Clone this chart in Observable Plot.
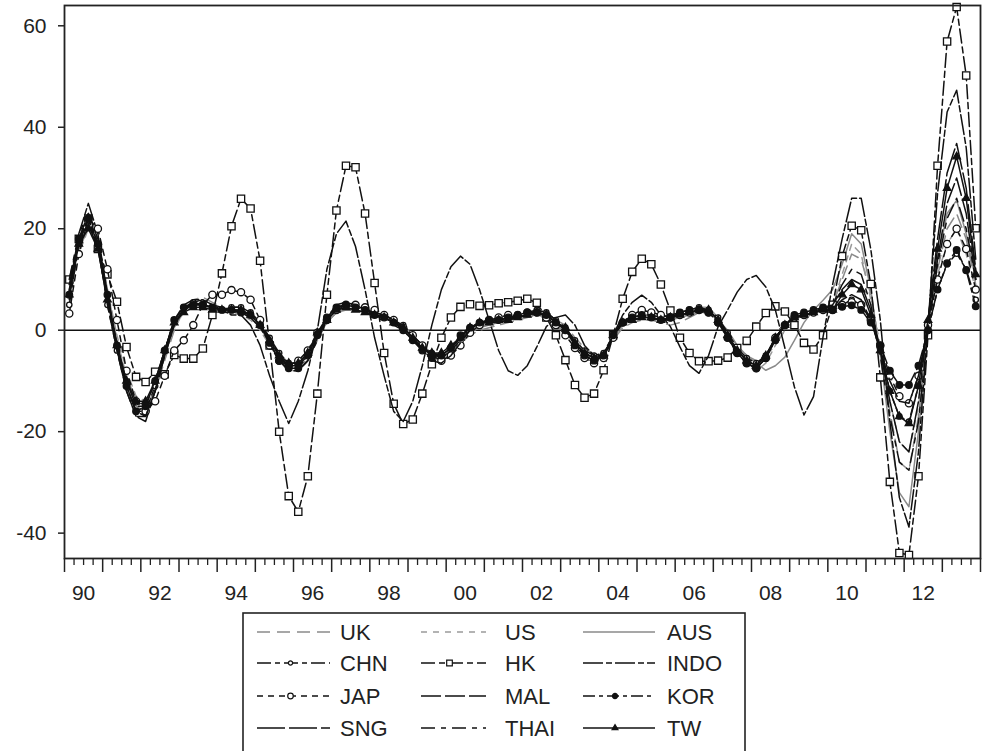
<!DOCTYPE html>
<html>
<head>
<meta charset="utf-8">
<script src="https://cdn.jsdelivr.net/npm/d3@7"></script>
<script src="https://cdn.jsdelivr.net/npm/@observablehq/plot@0.6"></script>
<style>
  body { margin: 0; background: #fff; }
  svg { display: block; }
</style>
</head>
<body>
<div id="chart"></div>
<script>
// ---- Data: quarterly, 1990Q1 .. 2013Q4 (96 observations, 8 per row = 2 years) ----
const startYear = 1990;
const perYear = 4;
const countries = ["UK","US","AUS","CHN","HK","INDO","JAP","MAL","KOR","SNG","THAI","TW"];
const yTicks = [-40, -20, 0, 20, 40, 60];
const xLabels = ["90","92","94","96","98","00","02","04","06","08","10","12"];

const UK = [
  9, 16, 20, 17, 7, -2, -9, -14,
  -15, -12, -6, 0, 4, 6, 6.5, 5.5,
  4.5, 4, 3.5, 2.5, 0.5, -2.5, -5.5, -7.5,
  -7.5, -5.5, -1.5, 1.5, 3.5, 4, 4, 3.5,
  3, 3, 2, 1, -1, -3, -4.5, -5,
  -4, -2.5, -1, 0, 0.5, 1, 1.5, 2,
  2.5, 3, 3, 2, 1, -1.5, -3.5, -5,
  -5, -2, 0.5, 1.5, 2, 2, 1.5, 1,
  1.5, 2.5, 3.5, 3.5, 2, -0.5, -3, -5,
  -6, -5, -3, 0, 2, 3, 3.5, 4,
  5, 10, 15, 14, 7, -4, -16, -26,
  -27.6, -17, 0, 12, 20, 23, 18, 9
];
const US = [
  7, 15, 20, 18, 8, -1, -8, -13,
  -14, -11, -5, 0.5, 3.5, 4.5, 5, 4.5,
  4, 3.5, 3, 2, 0, -3, -6, -8,
  -8, -6, -2, 1.5, 3.5, 4.5, 4.5, 4,
  3.5, 2.5, 1.5, 0, -2, -4, -5.5, -6,
  -4.5, -2, 0, 1, 1.5, 2, 2.5, 3,
  3.5, 4, 3.5, 2, 0, -2.5, -4.5, -5.5,
  -4.5, -1, 1.5, 2.5, 3, 3, 2.5, 3,
  3.5, 4, 4.5, 4.5, 2.5, -1, -4.5, -7,
  -8, -6.5, -3, 0, 2, 3, 3.5, 4,
  5, 11, 17, 15, 6, -3, -14, -22,
  -24, -15, 1, 11, 17, 20, 15, 8
];
const AUS = [
  8, 16, 21, 18, 8, -2, -10, -15,
  -16, -12, -5, 1, 4, 5, 5, 4,
  3.5, 3.5, 3.5, 2.5, 0.5, -2, -4.5, -6.5,
  -6.5, -5, -1.5, 1.5, 3.5, 4, 4, 3.5,
  3, 2.5, 1.5, 0.5, -1.5, -3, -4.5, -5,
  -3.5, -2, -0.5, 0.5, 1, 1.5, 2, 2.5,
  3, 3, 2.5, 1, -0.5, -2.5, -4.5, -5.5,
  -4.5, -1.5, 1, 2, 2.5, 2.5, 2, 2,
  2.5, 3, 3.5, 3.5, 2, 0, -3, -5,
  -6.5, -7.9, -7, -5.3, -2, 1.5, 4, 5.9,
  8, 13, 19, 17, 8, -5, -20, -32,
  -34.8, -20, 0, 14, 23, 25.6, 19, 10
];
const CHN = [
  5, 17, 22, 17, 5, -4, -11, -16,
  -16, -11, -4, 2, 4.5, 5.5, 5, 4.5,
  4, 4.5, 4.5, 3.5, 1.5, -1.5, -4.5, -6.5,
  -6.5, -4.5, -0.5, 2.5, 4.5, 5, 4.5, 4,
  3.5, 3, 2, 1, -1, -3, -4.5, -5,
  -3.5, -1.5, 0.5, 1.5, 2, 2, 2.5, 3,
  3.5, 4, 3.5, 2, 0.5, -2, -4, -5,
  -4.5, -1, 1.5, 2.5, 3, 3, 2.5, 3,
  3.5, 4, 4.5, 4, 2.5, -0.5, -3.5, -5.5,
  -6.5, -5, -1.5, 1, 2.5, 3, 3.5, 4,
  4, 5, 6, 5, 2, -4, -12, -17,
  -18, -11, 0, 8, 13, 15.1, 12, 6
];
const HK = [
  10, 18, 22, 16, 11, 5.6, -3.3, -9.2,
  -10.2, -8.2, -8.7, -4.9, -5.6, -5.6, -3.6, 3,
  11.2, 20.5, 25.9, 24, 13.7, -3, -20, -32.7,
  -35.8, -28.8, -12.5, 7, 23.6, 32.4, 32.1, 23,
  9.3, -4.5, -14.5, -18.5, -17.6, -12.5, -6.7, -1.5,
  2.5, 4.6, 5.1, 4.8, 4.9, 5.3, 5.5, 5.8,
  6.2, 5.4, 2.5, -1, -5.9, -10.8, -13.3, -12.5,
  -7.9, -1, 6.2, 11.5, 14.1, 13, 9, 3.9,
  -1.5, -4.5, -6.1, -6.1, -6, -5.4, -3.5, -2.1,
  0.7, 3.4, 4.7, 3.7, 1, -2.5, -3.8, -1,
  5, 14.6, 20.6, 19.7, 9.1, -9.3, -29.9, -43.9,
  -44.3, -28.8, -1, 32.4, 56.9, 63.7, 50.2, 20.1
];
const INDO = [
  6, 19, 25, 19, 7, -4, -12, -17,
  -18, -12, -4, 2, 5, 6, 6, 5,
  4, 3, 3, 1, -3, -9, -14, -18.4,
  -14, -8, 0, 12, 19, 21.5, 16.5, 8,
  -1.5, -9, -16, -18, -14, -7, 1, 8,
  12.5, 14.6, 13, 8, 2, -4, -8, -8.9,
  -7, -3.3, 0.7, 2.5, 3, 1, -3, -5,
  -5, -1, 3, 5.5, 6.9, 5.5, 3, 0.7,
  -3.3, -7, -8.5, -5, 0.7, 4, 7.5, 10,
  10.8, 8.5, 4, -3.5, -11.2, -16.7, -13.1, -1.3,
  9, 18, 26, 26, 16, 2, -18, -33,
  -38.8, -24, 1, 27, 43, 47.3, 36, 14
];
const JAP = [
  3.3, 15, 22, 20, 12, 2, -8, -14,
  -16, -14, -9, -4, -2, 1, 5, 7,
  7, 7.9, 7.5, 6, 2, -3, -6, -7,
  -6, -4, -0.5, 2, 4, 5, 5, 4.5,
  4, 3, 2, 0.5, -1, -3, -5, -6,
  -5, -3, -0.5, 1, 2, 2.5, 3, 3,
  3.5, 3.5, 2.5, 1, -1, -3.5, -5.5, -6.5,
  -5.5, -1.5, 1.5, 3, 4, 3.5, 3, 2.5,
  3, 3.5, 4, 3.5, 1.5, -1.5, -4.5, -6.5,
  -7.5, -5.5, -1.5, 1, 2.5, 3, 3.5, 4,
  4, 5, 5.5, 5, 2, -3, -9, -13,
  -14.4, -9, 1, 10, 17, 20, 16, 8
];
const MAL = [
  8, 18, 23, 18, 7, -3, -11, -16,
  -17, -12, -5, 1, 4, 5.5, 6, 5,
  4.5, 4, 3.5, 2.5, 0.5, -2.5, -6, -8,
  -8, -6, -1.5, 2.5, 5, 5.5, 5, 4,
  3.5, 3, 2, 0.5, -1.5, -4, -6, -6.5,
  -5, -2.5, 0, 1.5, 2, 2, 2.5, 2.5,
  3, 3.5, 3, 1.5, 0, -2.5, -5, -6,
  -5.5, -1, 2, 2.5, 3, 2.5, 2, 2.5,
  3, 3.5, 4, 4, 2, -1.5, -4.5, -6.5,
  -7.5, -5.5, -1.5, 1, 2.5, 3, 3.5, 4,
  4, 6, 7, 6, 2, -4, -10, -14,
  -14.4, -9, 1, 14, 25, 30, 23, 10
];
const KOR = [
  7, 18, 22, 17, 7, -3, -11, -16,
  -15, -10, -4, 2, 4.5, 5, 5, 4.5,
  4, 4, 3.5, 3, 1, -2.5, -6, -7.5,
  -7.5, -5, -1, 2.5, 4.5, 5, 4.5, 4,
  3, 2.5, 1.5, 0, -2, -4, -5.5, -5,
  -3.5, -1, 0.5, 1.5, 2, 2, 2.5, 3,
  3.5, 3.5, 3, 1.5, 0, -3, -5, -6,
  -5, -1, 1.5, 2.5, 3, 2.5, 2, 2.5,
  3.5, 4, 4, 3.5, 1.5, -1.5, -4.5, -6.5,
  -7.5, -5.5, -2, 1, 3, 3.5, 4, 4.5,
  4, 4.6, 4.9, 4, 1.5, -3, -8, -10.8,
  -10.8, -7, 0, 8, 13.2, 15.8, 11.8, 4.7
];
const SNG = [
  9, 18, 21, 16, 6, -3, -10, -15,
  -15, -10, -4, 1.5, 4, 5, 5, 4.5,
  4, 4, 4, 3, 1, -2, -5, -7,
  -7, -5, -1, 2, 4, 4.5, 4, 3.5,
  3, 2.5, 1.5, 0.5, -1.5, -3.5, -5, -5,
  -3.5, -1.5, 0.5, 1.5, 1.5, 1.5, 2, 2.5,
  3, 3.5, 3, 1.5, 0.5, -2.5, -4.5, -5.5,
  -5, -1, 1.5, 2, 2.5, 2.5, 2, 2.5,
  3, 3.5, 4, 4, 2, -1, -4, -6,
  -7, -5, -1.5, 1, 2.5, 3, 3.5, 4,
  5, 8, 10, 9, 4, -4, -14, -22,
  -24, -14, 2, 18, 31, 36.8, 28, 12
];
const THAI = [
  10, 19, 23, 17, 5, -4, -12, -17,
  -17, -12, -5, 1, 4, 5, 5, 4.5,
  4, 4.5, 4.5, 3.5, 1.5, -1.5, -5, -7.5,
  -8, -6, -2, 2, 4.5, 5, 4.5, 4,
  3.5, 2.5, 1, 0, -2, -4, -5.5, -5.5,
  -4, -2, 0, 1.5, 1.5, 1.5, 2, 2.5,
  3, 3.5, 3.5, 2, 0.5, -2.5, -5, -6,
  -5, -1, 1.5, 2, 2.5, 2.5, 2, 2,
  3, 3.5, 4, 4, 2, -1, -4, -6.5,
  -7.5, -5.5, -2, 1, 2.5, 3, 3.5, 4.5,
  5, 9, 12, 11, 5, -5, -17, -26,
  -27.6, -18, 0, 13, 22, 26, 20, 10
];
const TW = [
  7, 17, 20, 16, 6, -3, -10, -14,
  -14, -10, -4, 1.5, 3.5, 4.5, 4.5, 4,
  4, 4, 4, 3, 1, -2, -5, -6.5,
  -6.5, -4.5, -0.5, 2, 4, 4.5, 4, 3.5,
  3, 2.5, 1.5, 0.5, -1.5, -3.5, -4.5, -4.5,
  -3, -1.5, 0.5, 1.5, 1.5, 2, 2, 2.5,
  3, 3.5, 3, 1.5, 0.5, -2.5, -4.5, -5.5,
  -5, -1, 1.5, 2, 2.5, 2.5, 2, 2.5,
  3, 3.5, 4, 4, 2, -1, -4, -6,
  -7, -5, -1.5, 1, 2.5, 3, 3.5, 4,
  4, 7, 9, 8, 3, -4, -12, -17,
  -18.4, -11, 2, 16, 28, 34.2, 26, 11
];

const seriesValues = {UK, US, AUS, CHN, HK, INDO, JAP, MAL, KOR, SNG, THAI, TW};

// ---- Styles (kept separate from data) ----
const styles = {
  UK:   {stroke: "#8a8a8a", dash: "13,7"},
  US:   {stroke: "#9a9a9a", dash: "6,6"},
  AUS:  {stroke: "#8a8a8a", dash: null},
  CHN:  {stroke: "#111", dash: "14,4,5,4", symbol: "circle", r: 2.7, fill: "white"},
  HK:   {stroke: "#111", dash: "14,4,6,4", symbol: "square", r: 4.1, fill: "white"},
  INDO: {stroke: "#111", dash: "20,3,6,3"},
  JAP:  {stroke: "#111", dash: "6,5", symbol: "circle", r: 3.6, fill: "white"},
  MAL:  {stroke: "#111", dash: "20,4"},
  KOR:  {stroke: "#111", dash: "12,4,4,4", symbol: "circle", r: 3.3, fill: "#111"},
  SNG:  {stroke: "#111", dash: "28,4"},
  THAI: {stroke: "#111", dash: "14,6,5,6"},
  TW:   {stroke: "#111", dash: null, symbol: "triangle", r: 2.8, fill: "#111"}
};

// ---- Build the long table ----
const rows = [];
for (const c of countries) {
  seriesValues[c].forEach((v, i) => {
    rows.push({country: c, t: startYear + (i + 0.5) / perYear, v});
  });
}

const yearTicks = d3.range(startYear, startYear + 25);
const quarterTicks = d3.range(0, 24 * perYear + 1).filter(q => q % perYear !== 0).map(q => startYear + q / perYear);
const labelTicks = xLabels.map((d, k) => startYear + 2 * k + 0.5);

const FONT = "'Liberation Sans', Arial, Helvetica, sans-serif";

const marks = [];
marks.push(Plot.ruleY([0], {stroke: "#111", strokeWidth: 1.5}));
for (const c of countries) {
  const s = styles[c];
  const d = rows.filter(r => r.country === c);
  marks.push(Plot.line(d, {
    x: "t", y: "v", stroke: s.stroke, strokeWidth: 1.5,
    strokeDasharray: s.dash || undefined, curve: "linear"
  }));
  if (s.symbol) {
    marks.push(Plot.dot(d, {
      x: "t", y: "v", symbol: s.symbol, r: s.r, fill: s.fill,
      stroke: "#111", strokeWidth: 1.3
    }));
  }
}
marks.push(Plot.frame({stroke: "#222", strokeWidth: 1.8}));
marks.push(Plot.axisY(yTicks, {
  tickSize: 6, tickPadding: 12, tickFormat: d => String(d), label: null,
  fontSize: 21, stroke: "#222", strokeWidth: 1.5
}));
marks.push(Plot.axisX(yearTicks, {
  tickSize: 14, tickFormat: () => "", label: null, stroke: "#222", strokeWidth: 1.5
}));
marks.push(Plot.axisX(quarterTicks, {
  tickSize: 7, tickFormat: () => "", label: null, stroke: "#222", strokeWidth: 1.3
}));
marks.push(Plot.axisX(labelTicks, {
  tickSize: 0, tickPadding: 27, tickFormat: (d, i) => xLabels[i], label: null, fontSize: 21
}));

const chart = Plot.plot({
  width: 987,
  height: 612,
  marginLeft: 64,
  marginRight: 7,
  marginTop: 5,
  marginBottom: 54,
  x: {domain: [startYear, startYear + 24], label: null},
  y: {domain: [-45, 64], label: null},
  style: {fontFamily: FONT, fontSize: "21px", color: "#222", background: "white", overflow: "visible"},
  marks
});
document.getElementById("chart").appendChild(chart);

// ---- Legend (below the chart SVG) ----
const legend = d3.select("#chart").append("svg")
  .attr("width", 987).attr("height", 139)
  .style("font-family", FONT);

legend.append("rect")
  .attr("x", 243).attr("y", 1).attr("width", 502).attr("height", 170)
  .attr("fill", "white").attr("stroke", "#222").attr("stroke-width", 1.6);

const colSample = [[257, 330], [421, 486], [583, 655]];
const colText = [340, 505, 667];
const rowY = [20, 51, 84, 116];

const symbolGen = {circle: d3.symbolCircle, square: d3.symbolSquare, triangle: d3.symbolTriangle};

countries.forEach((c, k) => {
  const col = k % 3, row = Math.floor(k / 3);
  const s = styles[c];
  const y = rowY[row];
  const [x0, x1] = colSample[col];
  legend.append("line")
    .attr("x1", x0).attr("x2", x1).attr("y1", y).attr("y2", y)
    .attr("stroke", s.stroke).attr("stroke-width", 1.5)
    .attr("stroke-dasharray", s.dash || null);
  if (s.symbol) {
    legend.append("path")
      .attr("transform", `translate(${(x0 + x1) / 2 + (col === 0 ? -3 : -4)},${y})`)
      .attr("d", d3.symbol(symbolGen[s.symbol], Math.PI * s.r * s.r * 0.6)())
      .attr("fill", s.fill).attr("stroke", "#111").attr("stroke-width", 1.2);
  }
  legend.append("text")
    .attr("x", colText[col]).attr("y", y).attr("dy", "0.36em")
    .attr("font-size", 22).attr("fill", "#222")
    .text(c);
});
</script>
</body>
</html>
